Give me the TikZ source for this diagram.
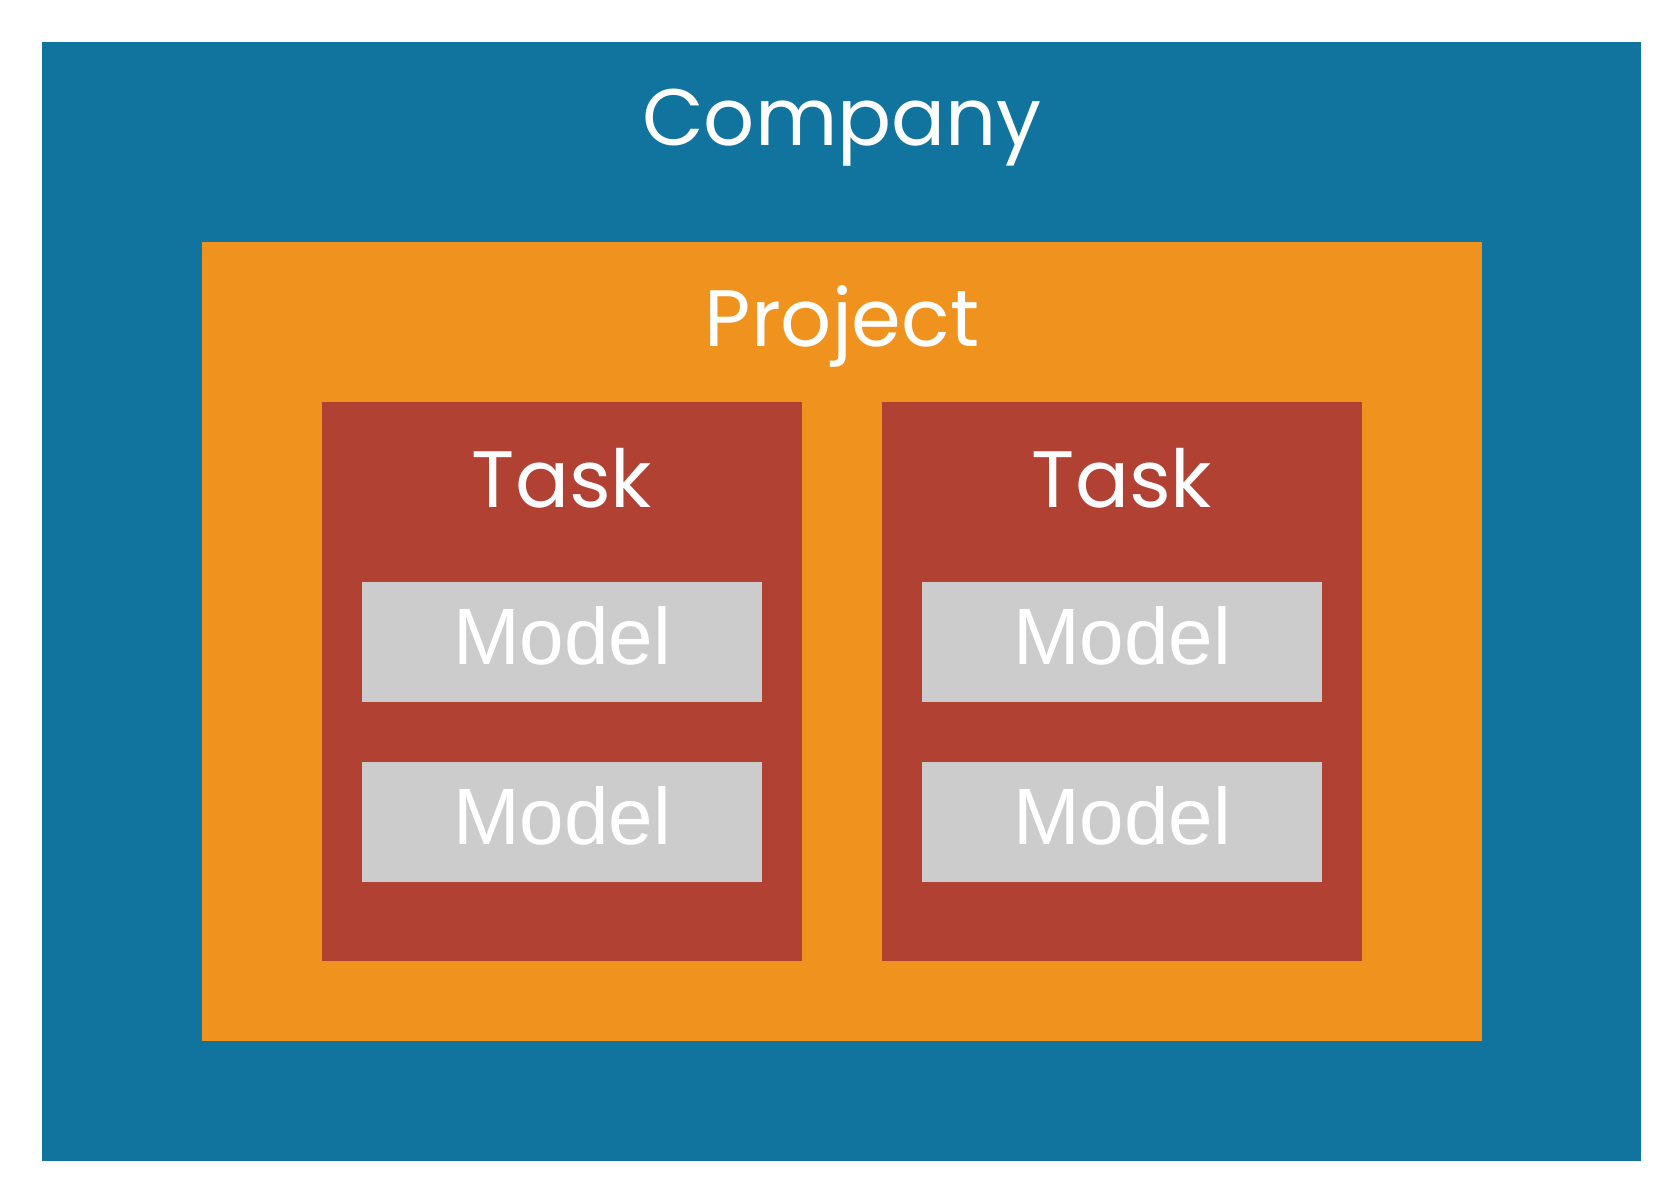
\documentclass[tikz,border=0pt]{standalone}
\usepackage{fontspec}
\newfontfamily\popfont{Poppins}
\newfontfamily\arialfont{Liberation Sans}
\definecolor{cblue}{HTML}{11749E}
\definecolor{corange}{HTML}{F0931E}
\definecolor{cred}{HTML}{B04133}
\definecolor{cgray}{HTML}{CCCCCC}
\begin{document}
\begin{tikzpicture}[x=1pt,y=-1pt,
  box/.style={draw=none,inner sep=0pt,outer sep=0pt,anchor=north west},
  title/.style={text=white,anchor=base,inner sep=0pt,font=\popfont\fontsize{80}{85}\selectfont},
  mtitle/.style={text=white,anchor=base,inner sep=0pt,font=\arialfont\fontsize{80}{85}\selectfont}]
\useasboundingbox (0,0) rectangle (1680,1200);
\fill[white] (0,0) rectangle (1680,1200);
\node[box,fill=cblue,minimum width=1599pt,minimum height=1119pt] (company) at (42,42) {};
\node[box,fill=corange,minimum width=1280pt,minimum height=799pt] (project) at (202,242) {};
\node[box,fill=cred,minimum width=480pt,minimum height=559pt] (task1) at (322,402) {};
\node[box,fill=cred,minimum width=480pt,minimum height=559pt] (task2) at (882,402) {};
\node[box,fill=cgray,minimum width=400pt,minimum height=120pt] (m11) at (362,582) {};
\node[box,fill=cgray,minimum width=400pt,minimum height=120pt] (m12) at (362,762) {};
\node[box,fill=cgray,minimum width=400pt,minimum height=120pt] (m21) at (922,582) {};
\node[box,fill=cgray,minimum width=400pt,minimum height=120pt] (m22) at (922,762) {};
\node[title] (tcompany) at (842,145) {Company};
\node[title] (tproject) at (842,346) {Project};
\node[title] (ttask1) at (562,507) {Task};
\node[title] (ttask2) at (1122,507) {Task};
\node[mtitle] (tm11) at (562,664) {Model};
\node[mtitle] (tm12) at (562,844) {Model};
\node[mtitle] (tm21) at (1122,664) {Model};
\node[mtitle] (tm22) at (1122,844) {Model};
\end{tikzpicture}
\end{document}
